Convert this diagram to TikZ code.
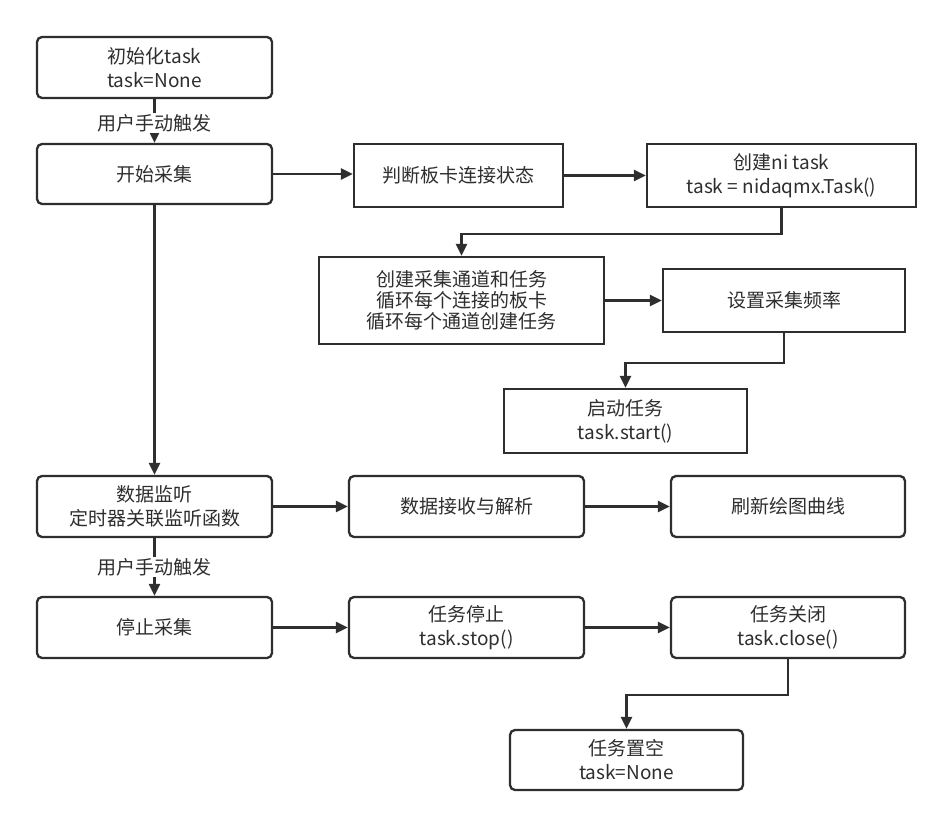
\documentclass[tikz,border=0pt]{standalone}
\usepackage{fontspec}
\setmainfont{Noto Sans CJK SC}
\usetikzlibrary{arrows.meta,calc}
\definecolor{ink}{HTML}{2E2E2E}
\tikzset{
  box/.style={draw=ink, line width=2.3pt, fill=white, text=ink, align=center,
    inner sep=0pt, font=\fontsize{19}{24}\selectfont},
  rbox/.style={box, rounded corners=5pt},
  sbox/.style={box},
  conn/.style={draw=ink, line width=2.3pt, -{Triangle[length=12pt,width=11pt]}},
  lbl/.style={fill=white, text=ink, inner sep=1pt, font=\fontsize{19}{22}\selectfont}
}
\begin{document}
\begin{tikzpicture}[x=1pt,y=-1pt]
\useasboundingbox[fill=white] (0,0) rectangle (952,827);
\node[rbox, minimum width=235pt, minimum height=61pt] (b1) at (154.5,67.5) {初始化task\\task=None};
\node[rbox, minimum width=235pt, minimum height=60pt] (b2) at (154.5,174) {开始采集};
\node[sbox, minimum width=209pt, minimum height=63pt] (b3) at (458.5,175.5) {判断板卡连接状态};
\node[sbox, minimum width=269pt, minimum height=63pt] (b4) at (781.5,175.5) {创建ni task\\task = nidaqmx.Task()};
\node[sbox, minimum width=285pt, minimum height=87pt, font=\fontsize{19}{21}\selectfont] (b5) at (461.5,300.5) {创建采集通道和任务\\循环每个连接的板卡\\循环每个通道创建任务};
\node[sbox, minimum width=242pt, minimum height=63pt] (b6) at (784,300.5) {设置采集频率};
\node[sbox, minimum width=243pt, minimum height=64pt] (b7) at (625.5,421) {启动任务\\task.start()};
\node[rbox, minimum width=235pt, minimum height=61pt] (b8) at (154.5,506.5) {数据监听\\定时器关联监听函数};
\node[rbox, minimum width=235pt, minimum height=61pt] (b9) at (466.5,506.5) {数据接收与解析};
\node[rbox, minimum width=234pt, minimum height=61pt] (b10) at (788,506.5) {刷新绘图曲线};
\node[rbox, minimum width=235pt, minimum height=61pt] (b11) at (154.5,627.5) {停止采集};
\node[rbox, minimum width=235pt, minimum height=61pt] (b12) at (466.5,627.5) {任务停止\\task.stop()};
\node[rbox, minimum width=234pt, minimum height=61pt] (b13) at (788,627.5) {任务关闭\\task.close()};
\node[rbox, minimum width=233pt, minimum height=60pt] (b14) at (626.5,760) {任务置空\\task=None};

\draw[conn] (b1.south) -- node[lbl, pos=0.55] {用户手动触发} (b2.north);
\draw[conn] (b2.east) -- (b2.east -| b3.west);
\draw[conn] (b3.east) -- (b4.west);
\draw[conn] (b4.south) -- ++(0,26) -| (b5.north);
\draw[conn] (b5.east) -- (b6.west);
\draw[conn] (b6.south) -- ++(0,30) -| (b7.north);
\draw[conn] (b2.south) -- (b8.north);
\draw[conn] (b8.east) -- (b9.west);
\draw[conn] (b9.east) -- (b10.west);
\draw[conn] (b8.south) -- node[lbl, pos=0.5] {用户手动触发} (b11.north);
\draw[conn] (b11.east) -- (b12.west);
\draw[conn] (b12.east) -- (b13.west);
\draw[conn] (b13.south) -- ++(0,36) -| (b14.north);
\end{tikzpicture}
\end{document}
